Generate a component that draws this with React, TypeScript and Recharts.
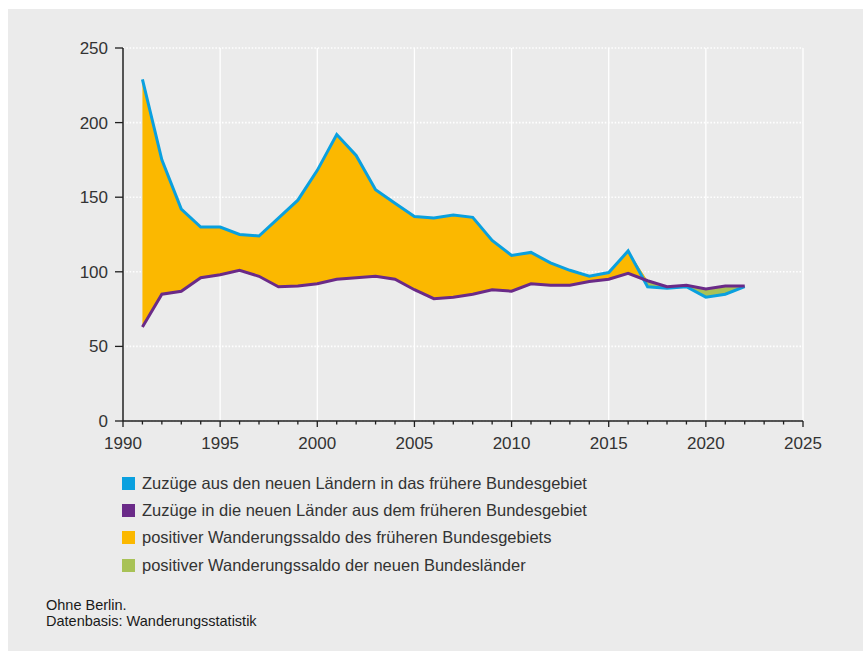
import { ComposedChart, Area, Line, XAxis, YAxis, CartesianGrid } from "recharts";

// Zuzüge in Tausend, ohne Berlin
const years = [
  1991, 1992, 1993, 1994, 1995, 1996, 1997, 1998, 1999, 2000, 2001, 2002, 2003, 2004, 2005, 2006,
  2007, 2008, 2009, 2010, 2011, 2012, 2013, 2014, 2015, 2016, 2017, 2018, 2019, 2020, 2021, 2022,
];
const ostNachWest = [
  229, 175, 142, 130, 130, 125, 124, 136, 148, 168, 192, 178, 155, 146, 137, 136,
  138, 136.5, 121, 111, 113, 106, 101, 97, 99.5, 114, 90, 89, 90, 83, 85, 90,
];
const westNachOst = [
  63, 85, 87, 96, 98, 101, 97, 90, 90.5, 92, 95, 96, 97, 95, 88, 82,
  83, 85, 88, 87, 92, 91, 91, 93.5, 95, 99, 94, 90, 91, 88.5, 90.5, 90.5,
];

const yTicks = [0, 50, 100, 150, 200, 250];
const xTicks = Array.from({ length: 36 }, (_, i) => 1990 + i);
const majorYears = [1990, 1995, 2000, 2005, 2010, 2015, 2020, 2025];

const legendLabels = [
  "Zuzüge aus den neuen Ländern in das frühere Bundesgebiet",
  "Zuzüge in die neuen Länder aus dem früheren Bundesgebiet",
  "positiver Wanderungssaldo des früheren Bundesgebiets",
  "positiver Wanderungssaldo der neuen Bundesländer",
];

const BLUE = "#0aa0df";
const PURPLE = "#6a2a88";
const ORANGE = "#fbb800";
const GREEN = "#a8c256";
const legendColors = [BLUE, PURPLE, ORANGE, GREEN];
const BG = "#ebebeb";
const INK = "#333";

const data = years.map((year, i) => {
  const west = ostNachWest[i];
  const ost = westNachOst[i];
  return {
    year,
    west,
    ost,
    saldoWest: [ost, Math.max(west, ost)],
    saldoOst: [west, Math.max(west, ost)],
  };
});

function YearTick({ x, y, payload }: any) {
  const major = payload.value % 5 === 0;
  return (
    <g>
      <line x1={x} x2={x} y1={y} y2={y + (major ? 6 : 3.5)} stroke="#1e1e1e" strokeWidth={1.3} />
      {major && (
        <text x={x} y={y + 28} textAnchor="middle" fill={INK} fontSize={17}>
          {payload.value}
        </text>
      )}
    </g>
  );
}

export default function App() {
  return (
    <div style={{ padding: "9px 0 0 8px" }}>
      <style>{"body{margin:0;overflow:hidden}"}</style>
      <div
        style={{
          position: "relative",
          width: 855,
          height: 642,
          background: BG,
          fontFamily: "'Liberation Sans', Arial, sans-serif",
          color: INK,
        }}
      >
        <ComposedChart width={855} height={452} data={data} margin={{ top: 39, right: 60, left: 0, bottom: 0 }}>
          <CartesianGrid vertical={false} stroke="#fff" strokeWidth={1.6} strokeDasharray="1.5 1.8" />
          <CartesianGrid horizontal={false} xAxisId="major" stroke="#fff" strokeWidth={1.3} />
          <XAxis xAxisId="major" dataKey="year" type="number" domain={[1990, 2025]} ticks={majorYears} hide />
          <XAxis
            dataKey="year"
            type="number"
            domain={[1990, 2025]}
            ticks={xTicks}
            interval={0}
            tick={<YearTick />}
            tickLine={false}
            tickSize={0}
            tickMargin={0}
            height={40}
            axisLine={{ stroke: "#1e1e1e", strokeWidth: 1.5 }}
          />
          <YAxis
            type="number"
            domain={[0, 250]}
            ticks={yTicks}
            interval={0}
            width={115}
            tickSize={8}
            tickMargin={7}
            tick={{ fill: INK, fontSize: 17 }}
            tickLine={{ stroke: "#1e1e1e", strokeWidth: 1.3 }}
            axisLine={{ stroke: "#1e1e1e", strokeWidth: 1.5 }}
          />
          <Area type="linear" dataKey="saldoOst" fill={GREEN} fillOpacity={1} stroke="none" isAnimationActive={false} />
          <Area type="linear" dataKey="saldoWest" fill={ORANGE} fillOpacity={1} stroke="none" isAnimationActive={false} />
          <Line type="linear" dataKey="west" stroke={BLUE} strokeWidth={3} dot={false} isAnimationActive={false} />
          <Line type="linear" dataKey="ost" stroke={PURPLE} strokeWidth={3} dot={false} isAnimationActive={false} />
        </ComposedChart>

        <div style={{ position: "absolute", left: 114, top: 460.5 }}>
          {legendLabels.map((label, i) => (
            <div key={label} style={{ display: "flex", alignItems: "center", height: 27.4 }}>
              <span style={{ width: 13, height: 13, background: legendColors[i], marginRight: 7 }} />
              <span style={{ fontSize: 16.5, whiteSpace: "nowrap" }}>{label}</span>
            </div>
          ))}
        </div>

        <div style={{ position: "absolute", left: 38, top: 587.5, fontSize: 14.5, lineHeight: "16.7px", color: "#1a1a1a" }}>
          <div>Ohne Berlin.</div>
          <div>Datenbasis: Wanderungsstatistik</div>
        </div>
      </div>
    </div>
  );
}
